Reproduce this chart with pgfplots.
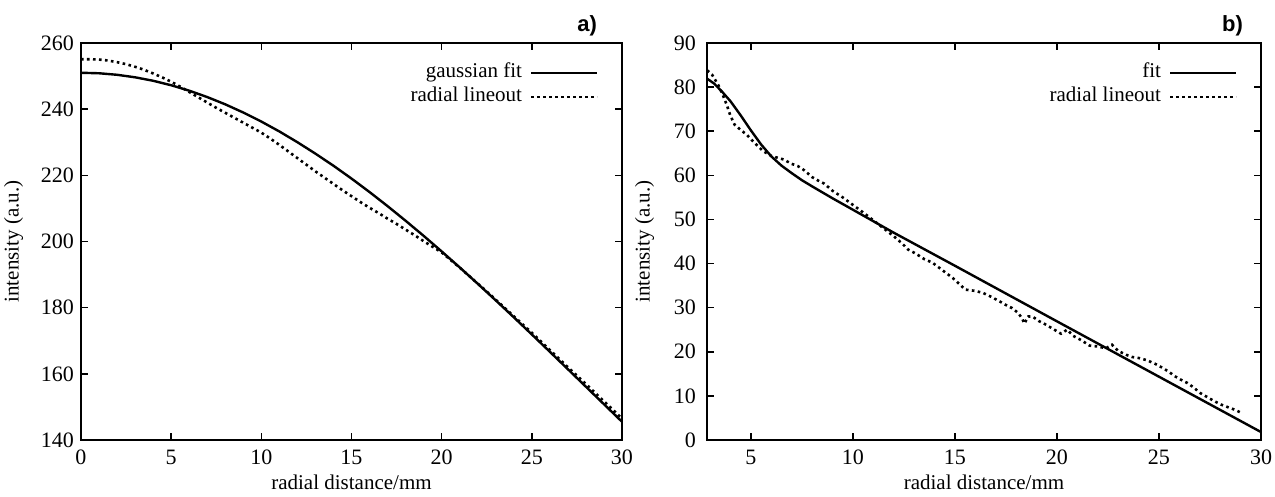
\documentclass[border=0pt]{standalone}
\usepackage{fontspec}
\setmainfont{Liberation Serif}
\setsansfont{Liberation Sans}
\usepackage{pgfplots}
\pgfplotsset{compat=1.18}

\pgfplotstableread{
x y
0 251.0
1 250.85
2 250.39
3 249.63
4 248.58
5 247.23
6 245.59
7 243.66
8 241.46
9 238.98
10 236.25
11 233.26
12 230.01
13 226.55
14 222.90
15 219.02
16 214.95
17 210.69
18 206.27
19 201.71
20 197.0
21 192.17
22 187.23
23 182.20
24 177.09
25 171.90
26 166.66
27 161.39
28 156.10
29 150.81
30 145.52
}\fitA

\pgfplotstableread{
x y
0 255.1
0.5 255.1
1 255.0
1.5 254.7
2 254.2
2.5 253.6
3 252.8
3.5 251.9
4 250.8
4.5 249.6
5 248.3
5.5 246.8
6 245.2
6.5 243.6
7 242.0
7.5 240.4
8 238.9
8.5 237.4
9 235.9
9.5 234.4
10 232.9
10.5 231.1
11 229.2
11.5 227.2
12 225.2
12.5 223.2
13 221.2
13.5 219.3
14 217.4
14.5 215.5
15 213.7
15.5 211.9
16 210.2
16.5 208.6
17 206.9
17.5 205.3
18 203.6
18.5 201.9
19 200.1
19.5 198.4
20 196.7
20.5 194.4
21 192.1
21.5 189.7
22 187.3
22.5 184.9
23 182.4
23.5 179.9
24 177.4
24.5 174.9
25 172.4
26 167.2
27 162.0
28 156.9
29 151.7
30 146.5
}\lineA

\pgfplotstableread{
x y
2.86 81.9
3.2 80.8
3.6 78.9
4.0 76.8
4.5 73.6
5.0 70.2
5.5 67.0
6.0 64.3
6.5 62.2
7.0 60.5
7.5 58.9
8.0 57.5
9.0 54.8
10.0 52.2
11.0 49.6
12.0 47.0
15.0 39.5
20.0 26.9
25.0 14.35
30.0 1.8
}\fitB

\pgfplotstableread{
x y
2.86 83.8
3.1 82.8
3.4 80.5
3.6 78.5
3.8 76.2
4.0 73.5
4.2 71.5
4.5 70.3
4.8 69.2
5.0 68.2
5.3 66.8
5.6 65.5
6.0 64.4
6.3 64.0
6.6 63.6
7.0 62.6
7.3 62.1
7.6 61.2
8.0 59.6
8.3 58.8
8.6 58.1
9.0 56.5
9.5 55.0
10.0 53.3
10.5 51.6
11.0 49.8
11.5 48.0
12.0 46.2
12.4 44.6
12.7 43.2
13.1 42.2
13.5 41.0
13.9 40.2
14.3 38.8
14.9 36.7
15.3 35.0
15.5 34.1
16.0 33.8
16.4 33.3
16.8 32.4
17.2 31.4
17.5 30.6
17.8 29.9
18.1 28.8
18.3 27.5
18.4 26.4
18.6 28.0
18.8 28.0
19.1 27.0
19.4 26.3
19.8 25.2
20.2 24.1
20.5 25.0
20.8 23.6
21.2 22.6
21.6 21.4
22.0 21.2
22.4 20.8
22.7 21.6
23.0 20.2
23.4 19.3
23.7 18.8
24.0 18.6
24.4 18.1
24.8 17.3
25.2 16.3
25.5 15.4
25.8 14.4
26.1 13.6
26.4 12.9
26.7 11.9
27.0 10.7
27.3 9.9
27.6 9.1
28.0 8.1
28.4 7.4
28.75 6.8
29.1 6.0
}\lineB

\pgfplotsset{
  gp/.style={
    scale only axis,
    height=198.5pt,
    tick align=inside,
    major tick length=3.5pt,
    every tick/.style={black, line width=0.8pt},
    axis line style={line width=0.9pt},
    tick label style={font=\fontsize{11}{12}\selectfont},
    xticklabel style={yshift=-1.5pt},
    label style={font=\fontsize{10.5}{12}\selectfont},
    xlabel shift=-2pt,
    /pgf/number format/assume math mode=true,
    xlabel={radial distance/mm},
    ylabel={intensity (a.u.)},
    legend style={draw=none, fill=none, font=\fontsize{10.5}{11.5}\selectfont,
      at={(1,1)}, anchor=north east, xshift=-11.5pt, yshift=-8.75pt,
      inner sep=0pt, row sep=0pt, column sep=3pt,
      nodes={inner sep=1pt, text height=7.5pt, text depth=2.5pt}},
    legend cell align=right,
    legend plot pos=right,
    legend image code/.code={\draw[##1] (0pt,0pt) -- (33pt,0pt);},
  },
  fitline/.style={black, line width=1.2pt},
  lineout/.style={black, line width=1.3pt, dash pattern=on 1.3pt off 1.7pt},
}

\begin{document}
\begin{tikzpicture}[x=1pt,y=1pt]
\useasboundingbox (0,0) rectangle (637.5,248.5);
\begin{axis}[gp, at={(40.5pt,28.5pt)}, anchor=south west, width=270.5pt,
  xmin=0, xmax=30, ymin=140, ymax=260,
  xtick={0,5,...,30}, ytick={140,160,...,260}, ylabel shift=2pt]
\addplot[fitline] table[x=x,y=y] {\fitA};
\addlegendentry{gaussian fit}
\addplot[lineout] table[x=x,y=y] {\lineA};
\addlegendentry{radial lineout}
\end{axis}
\begin{axis}[gp, at={(353.5pt,28.5pt)}, anchor=south west, width=277pt,
  xmin=2.85, xmax=30, ymin=0, ymax=90,
  xtick={5,10,...,30}, ytick={0,10,...,90},
  yticklabel style={xshift=-2pt}, ylabel shift=3pt]
\addplot[fitline] table[x=x,y=y] {\fitB};
\addlegendentry{fit}
\addplot[lineout] table[x=x,y=y] {\lineB};
\addlegendentry{radial lineout}
\end{axis}
\node[anchor=east, font=\sffamily\bfseries\fontsize{11}{12}\selectfont] at (302pt,235.5pt) {a)};
\node[anchor=east, font=\sffamily\bfseries\fontsize{11}{12}\selectfont] at (625pt,235.5pt) {b)};
\end{tikzpicture}
\end{document}
